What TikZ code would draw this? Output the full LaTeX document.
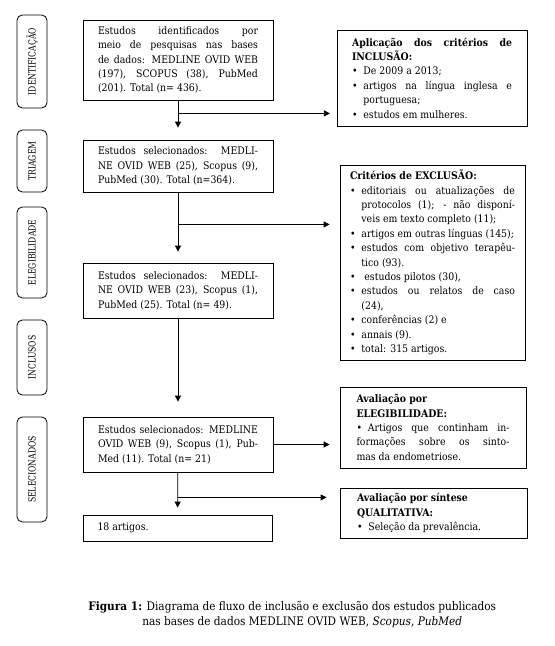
\documentclass[tikz,border=0pt]{standalone}
\usepackage{fontspec}
\setmainfont[FakeStretch=0.9]{DejaVu Serif}
\newfontfamily\fasefont[FakeStretch=0.78]{DejaVu Serif}
\usetikzlibrary{arrows.meta}

\newcommand{\marca}{\par\noindent\hangindent=1.1em\hangafter=1\makebox[1.1em][l]{\textbullet}}

\begin{document}
\hyphenpenalty=10000
\exhyphenpenalty=10000
\begin{tikzpicture}[x=0.75pt,y=-0.75pt,
  caixa/.style={draw, line width=0.6pt, align=justify, inner xsep=0pt, inner ysep=0pt,
    font=\fontsize{7.8}{10.8}\selectfont},
  fase/.style={draw, line width=0.6pt, rounded corners=4pt, rotate=90, minimum height=22.5pt,
    inner sep=0pt, font=\fasefont\fontsize{7.4}{8}\selectfont},
  seta/.style={line width=0.6pt, -{Triangle[length=4.5pt,width=4.5pt]}}]
\useasboundingbox (0,0) rectangle (554,646);

% fases
\node[fase, minimum width=69.75pt] (fident) at (32,61.5) {IDENTIFICAÇÃO};
\node[fase, minimum width=46.5pt] (ftriag) at (32,161) {TRIAGEM};
\node[fase, minimum width=68.25pt] (feleg) at (32,252.5) {ELEGIBILIDADE};
\node[fase, minimum width=56.25pt] (fincl) at (32,357.5) {INCLUSOS};
\node[fase, minimum width=78.75pt] (fsel) at (32,469.5) {SELECIONADOS};

% coluna principal
\node[caixa, text width=120pt, minimum width=142.5pt, minimum height=60pt] (ident) at (178,60)
  {\noindent Estudos identificados por\linebreak meio de pesquisas nas bases\linebreak
   de dados: MEDLINE OVID WEB\linebreak (197), SCOPUS (38), PubMed\linebreak (201). Total (n= 436).};
\node[caixa, text width=120pt, minimum width=142.5pt, minimum height=39pt] (triag) at (178,166)
  {\noindent Estudos selecionados: MEDLI-\linebreak NE OVID WEB (25), Scopus (9),\linebreak
   PubMed (30). Total (n=364).};
\node[caixa, text width=120pt, minimum width=142.5pt, minimum height=41.25pt] (eleg) at (178,290.5)
  {\noindent Estudos selecionados: MEDLI-\linebreak NE OVID WEB (23), Scopus (1),\linebreak
   PubMed (25). Total (n= 49).};
\node[caixa, text width=120pt, minimum width=142.5pt, minimum height=41.25pt] (sel) at (178,444.5)
  {\noindent Estudos selecionados: MEDLINE\linebreak OVID WEB (9), Scopus (1), Pub-\linebreak
   Med (11). Total (n= 21)};
\node[caixa, text width=120pt, minimum width=141.75pt, minimum height=19.5pt] (final) at (177.5,528)
  {\noindent 18 artigos.};

% coluna da direita
\node[caixa, text width=120pt, minimum width=142.5pt, minimum height=72pt] (incl) at (432,78)
  {\noindent\textbf{Aplicação dos critérios de\linebreak INCLUSÃO:}
   \marca De 2009 a 2013;
   \marca artigos na língua inglesa e\linebreak portuguesa;
   \marca estudos em mulheres.};
\node[caixa, text width=123.75pt, minimum width=138.75pt, minimum height=146.25pt] (excl) at (432.5,262.5)
  {\noindent\textbf{Critérios de EXCLUSÃO:}
   \marca editoriais ou atualizações de\linebreak protocolos (1); - não disponí-\linebreak veis em texto completo (11);
   \marca artigos em outras línguas (145);
   \marca estudos com objetivo terapêu-\linebreak tico (93).
   \marca \ estudos pilotos (30),
   \marca estudos ou relatos de caso\linebreak (24),
   \marca conferências (2) e
   \marca annais (9).
   \marca total: 315 artigos.};
\node[caixa, text width=114.75pt, minimum width=139.5pt, minimum height=60.75pt] (avel) at (433,427.5)
  {\noindent\textbf{Avaliação por\\ ELEGIBILIDADE:}
   \marca Artigos que continham in-\linebreak formações sobre os sinto-\linebreak mas da endometriose.};
\node[caixa, text width=114.75pt, minimum width=140.25pt, minimum height=37.5pt] (avql) at (433.5,513)
  {\noindent\textbf{Avaliação por síntese\\ QUALITATIVA:}
   \marca Seleção da prevalência.};

% setas
\draw[seta, shorten >=9pt] (ident) -- (triag);
\path (ident.south) ++(0,13) coordinate (r1);
\draw[seta, shorten >=5pt] (r1) -- (r1 -| incl.west);
\draw[seta, shorten >=8.25pt] (triag) -- (eleg);
\path (triag.south) ++(0,32) coordinate (r2);
\draw[seta, shorten >=7.5pt] (r2) -- (r2 -| excl.west);
\draw[seta, shorten >=11.25pt] (eleg) -- (sel);
\draw[seta, shorten >=7.5pt] (sel.east) -- (sel.east -| avel.west);
\draw[seta, shorten >=5.25pt] (sel) -- (final);
\path (sel.south) ++(0,25) coordinate (r3);
\draw[seta, shorten >=9.75pt] (r3) -- (r3 -| avql.west);

% legenda
\node[anchor=west, inner sep=0pt, font=\fontsize{8.8}{9}\selectfont] (leg1) at (88,607)
  {\textbf{Figura 1:} Diagrama de fluxo de inclusão e exclusão dos estudos publicados};
\node[anchor=west, inner sep=0pt, font=\fontsize{8.8}{9}\selectfont] (leg2) at (142,622)
  {nas bases de dados MEDLINE OVID WEB, \textit{Scopus}, \textit{PubMed}};
\end{tikzpicture}
\end{document}
